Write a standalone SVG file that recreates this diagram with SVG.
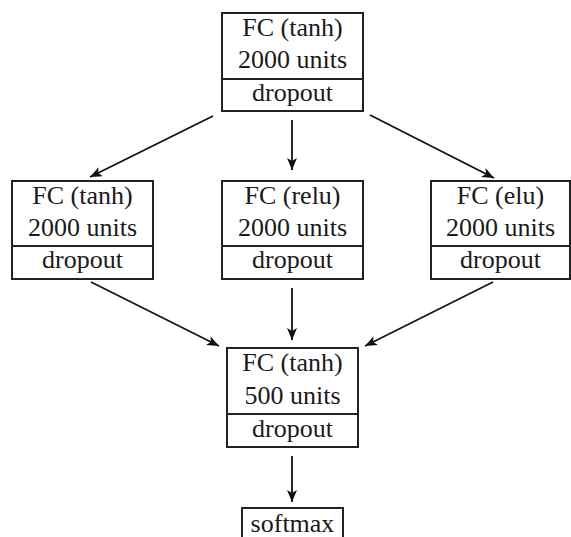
<svg xmlns="http://www.w3.org/2000/svg" width="571" height="537" viewBox="0 0 571 537">
<defs>
<marker id="ah" viewBox="0 0 12 10" refX="12" refY="5" markerWidth="12" markerHeight="10" markerUnits="userSpaceOnUse" orient="auto">
<path d="M0,0 L12,5 L0,10 L3,5 Z" fill="#111"/>
</marker>
<style>
.box{fill:#fff;stroke:#222;stroke-width:2}
.div{stroke:#222;stroke-width:2}
.t{font-family:"Liberation Serif","DejaVu Serif",serif;font-size:26px;fill:#1a1a1a;text-anchor:middle}
.c{stroke:#111;stroke-width:1.8;fill:none;marker-end:url(#ah)}
</style>
</defs>
<rect width="571" height="537" fill="#fff"/>
<g id="connectors">
<line class="c" x1="213" y1="116" x2="90" y2="177"/>
<line class="c" x1="292" y1="120" x2="292" y2="170"/>
<line class="c" x1="370" y1="115" x2="494" y2="178"/>
<line class="c" x1="91" y1="282" x2="219" y2="346"/>
<line class="c" x1="292" y1="288" x2="292" y2="340"/>
<line class="c" x1="493" y1="282" x2="365" y2="346"/>
<line class="c" x1="292" y1="456" x2="292" y2="502"/>
</g>
<g id="top">
<rect class="box" x="222" y="13" width="141" height="98"/>
<line class="div" x1="222" y1="79" x2="363" y2="79"/>
<text class="t" x="292.5" y="36">FC (tanh)</text>
<text class="t" x="292.5" y="68">2000 units</text>
<text class="t" x="292.5" y="101">dropout</text>
</g>
<g id="left">
<rect class="box" x="12" y="181" width="141" height="98"/>
<line class="div" x1="12" y1="246" x2="153" y2="246"/>
<text class="t" x="82.5" y="204">FC (tanh)</text>
<text class="t" x="82.5" y="236">2000 units</text>
<text class="t" x="82.5" y="268">dropout</text>
</g>
<g id="middle">
<rect class="box" x="222" y="181" width="141" height="98"/>
<line class="div" x1="222" y1="246" x2="363" y2="246"/>
<text class="t" x="292.5" y="204">FC (relu)</text>
<text class="t" x="292.5" y="236">2000 units</text>
<text class="t" x="292.5" y="268">dropout</text>
</g>
<g id="right">
<rect class="box" x="431" y="181" width="139" height="98"/>
<line class="div" x1="431" y1="246" x2="570" y2="246"/>
<text class="t" x="500.5" y="204">FC (elu)</text>
<text class="t" x="500.5" y="236">2000 units</text>
<text class="t" x="500.5" y="268">dropout</text>
</g>
<g id="bottom">
<rect class="box" x="227" y="348" width="131" height="99"/>
<line class="div" x1="227" y1="414" x2="358" y2="414"/>
<text class="t" x="292.5" y="371">FC (tanh)</text>
<text class="t" x="292.5" y="404">500 units</text>
<text class="t" x="292.5" y="437">dropout</text>
</g>
<g id="softmax">
<rect class="box" x="242" y="508" width="101" height="40"/>
<text class="t" x="292.5" y="532">softmax</text>
</g>
</svg>
